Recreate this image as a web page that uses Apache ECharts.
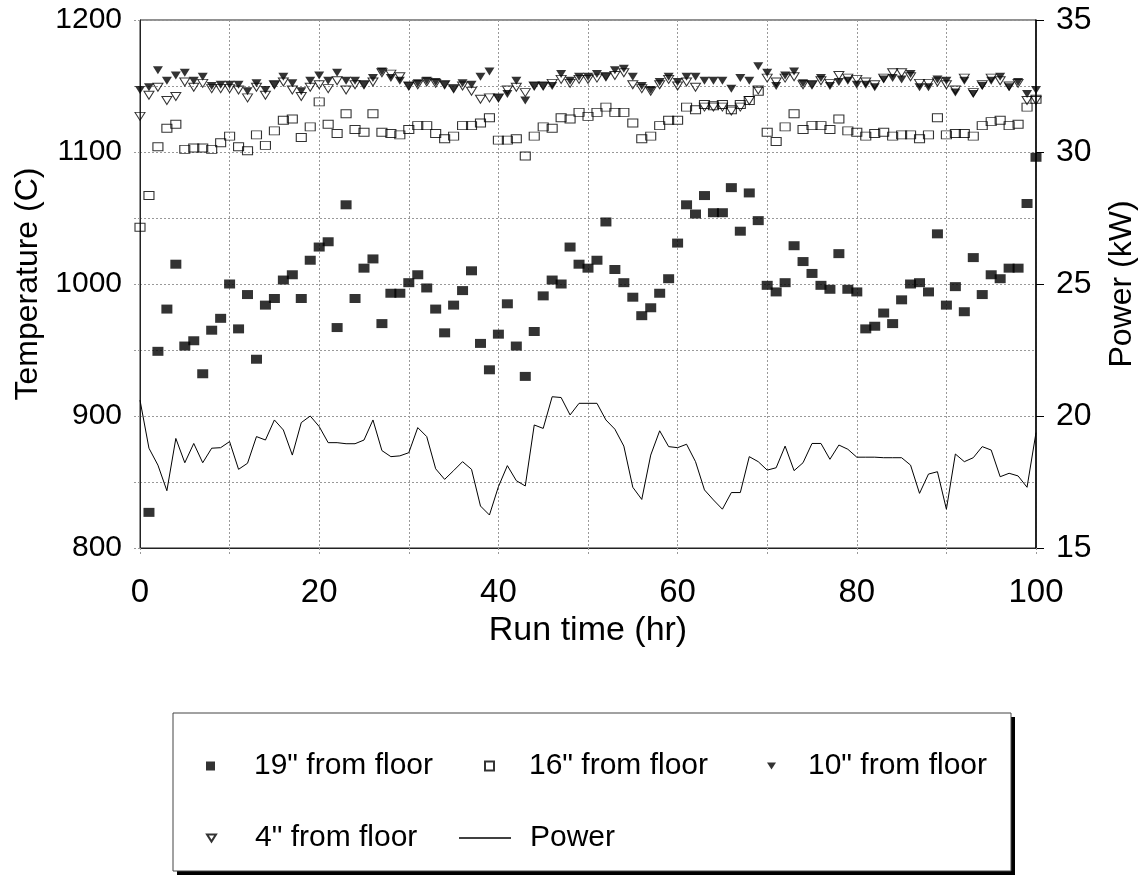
<!DOCTYPE html>
<html>
<head>
<meta charset="utf-8">
<script src="https://cdn.jsdelivr.net/npm/echarts@6/dist/echarts.min.js"></script>
<style>
  html, body { margin: 0; padding: 0; background: #fff; }
  #chart { width: 1144px; height: 884px; }
</style>
</head>
<body>
<div id="chart"></div>
<script>
// run time in hours, one reading per hour
const hours = Array.from({ length: 101 }, (_, i) => i)

// temperatures (C), index = hour
const temp19 = [null, 827, 949, 981, 1015, 953, 957, 932, 965, 974, 1000,
  966, 992, 943, 984, 989, 1003, 1007, 989, 1018, 1028,
  1032, 967, 1060, 989, 1012, 1019, 970, 993, 993, 1001,
  1007, 997, 981, 963, 984, 995, 1010, 955, 935, 962,
  985, 953, 930, 964, 991, 1003, 1000, 1028, 1015, 1012,
  1018, 1047, 1011, 1001, 990, 976, 982, 993, 1004, 1031,
  1060, 1053, 1067, 1054, 1054, 1073, 1040, 1069, 1048, 999,
  994, 1001, 1029, 1017, 1008, 999, 996, 1023, 996, 994,
  966, 968, 978, 970, 988, 1000, 1001, 994, 1038, 984,
  998, 979, 1020, 992, 1007, 1004, 1012, 1012, 1061, 1096]

const temp16 = [1043, 1067, 1104, 1118, 1121, 1102, 1103, 1103, 1102, 1107, 1112,
  1104, 1101, 1113, 1105, 1116, 1124, 1125, 1111, 1119, 1138,
  1121, 1114, 1129, 1117, 1115, 1129, 1115, 1114, 1113, 1117,
  1120, 1120, 1114, 1110, 1112, 1120, 1120, 1122, 1126, 1109,
  1109, 1110, 1097, 1112, 1119, 1118, 1126, 1125, 1130, 1127,
  1130, 1134, 1130, 1130, 1122, 1110, 1112, 1120, 1124, 1124,
  1134, 1132, 1136, 1135, 1136, 1132, 1136, 1139, 1146, 1115,
  1108, 1119, 1129, 1117, 1120, 1120, 1117, 1125, 1116, 1115,
  1112, 1114, 1115, 1112, 1113, 1113, 1110, 1113, 1126, 1113,
  1114, 1114, 1112, 1120, 1123, 1124, 1120, 1121, 1134, 1140]

const temp10 = [1147, 1149, 1162, 1154, 1158, 1160, 1154, 1157, 1150, 1151, 1151,
  1151, 1146, 1152, 1147, 1151, 1157, 1152, 1146, 1154, 1158,
  1154, 1160, 1154, 1154, 1151, 1156, 1161, 1156, 1154, 1150,
  1152, 1154, 1153, 1151, 1148, 1152, 1151, 1157, 1161, 1141,
  1144, 1154, 1139, 1150, 1150, 1150, 1159, 1154, 1157, 1157,
  1159, 1157, 1162, 1163, 1157, 1150, 1147, 1153, 1157, 1153,
  1157, 1157, 1154, 1154, 1154, 1148, 1156, 1154, 1165, 1160,
  1150, 1158, 1161, 1152, 1151, 1156, 1150, 1153, 1154, 1151,
  1151, 1149, 1155, 1156, 1155, 1159, 1149, 1149, 1155, 1154,
  1145, 1154, 1144, 1150, 1154, 1157, 1149, 1153, 1144, 1147]

const temp4 = [1127, 1143, 1149, 1139, 1142, 1153, 1149, 1152, 1148, 1148, 1148,
  1147, 1141, 1149, 1143, 1151, 1153, 1147, 1142, 1149, 1151,
  1148, 1154, 1147, 1151, 1151, 1153, 1160, 1159, 1157, 1150,
  1151, 1153, 1152, 1151, 1148, 1150, 1146, 1140, 1141, 1141,
  1147, 1149, 1145, 1150, 1150, 1152, 1155, 1152, 1155, 1155,
  1156, 1157, 1158, 1160, 1151, 1148, 1146, 1151, 1155, 1150,
  1153, 1149, 1134, 1134, 1134, 1131, 1134, 1139, 1147, 1156,
  1153, 1156, 1157, 1151, 1151, 1154, 1152, 1158, 1156, 1155,
  1153, 1151, 1156, 1160, 1160, 1157, 1152, 1152, 1153, 1151,
  1147, 1156, 1145, 1151, 1156, 1154, 1150, 1152, 1139, 1139]

// power (kW), index = hour
const power = [20.6, 18.78, 18.14, 17.17, 19.15, 18.23, 18.96, 18.23, 18.78, 18.8, 19.03,
  17.98, 18.21, 19.22, 19.09, 19.85, 19.47, 18.52, 19.75, 20.0, 19.6,
  18.99, 18.99, 18.95, 18.95, 19.09, 19.85, 18.69, 18.46, 18.49, 18.61,
  19.56, 19.22, 18.0, 17.6, 17.93, 18.27, 17.98, 16.59, 16.25, 17.32,
  18.12, 17.55, 17.35, 19.66, 19.53, 20.73, 20.7, 20.04, 20.48, 20.48,
  20.48, 19.85, 19.5, 18.86, 17.3, 16.84, 18.52, 19.44, 18.84, 18.8,
  18.93, 18.27, 17.2, 16.82, 16.47, 17.1, 17.1, 18.46, 18.27, 17.95,
  18.04, 18.86, 17.93, 18.23, 18.96, 18.96, 18.36, 18.9, 18.74, 18.44,
  18.44, 18.44, 18.42, 18.42, 18.42, 18.14, 17.07, 17.8, 17.89, 16.47,
  18.56, 18.27, 18.42, 18.84, 18.71, 17.7, 17.83, 17.73, 17.3, 19.37]

const xTickLabels = [0, 20, 40, 60, 80, 100]
const tempTickLabels = [800, 900, 1000, 1100, 1200]
const powerTickLabels = [15, 20, 25, 30, 35]

const FONT = "'Liberation Sans', Arial, sans-serif"
const DOWN_TRI = 'path://M0,0L10,0L5,8Z'

const pairs = (vals) => hours.map((h, i) => [h, vals[i]])

const chart = echarts.init(document.getElementById('chart'))

// one legend component per entry so every entry sits where the reference has it
const legendItem = (name, left, top, pad, opts) => Object.assign({
  data: [name],
  left: left,
  top: top,
  padding: 0,
  itemWidth: 9,
  itemHeight: 9,
  selectedMode: false,
  textStyle: { fontFamily: FONT, fontSize: 30, color: '#000', padding: [0, 0, 0, pad] }
}, opts || {})

const gridLine = { show: true, lineStyle: { color: '#999', type: [2, 2], width: 1 } }
const dottedTick = { show: true, length: 8, lineStyle: { color: '#999', type: [2, 2], width: 1 } }

chart.setOption({
  animation: false,
  backgroundColor: '#fff',
  grid: {
    left: 140, right: 108, top: 20, bottom: 336,
    outerBoundsMode: 'none',
    containLabel: false,
    show: true, borderColor: '#222', borderWidth: 1
  },
  legend: [
    legendItem('19" from floor', 206, 751, 34),
    legendItem('16" from floor', 484, 751, 30),
    legendItem({ name: '10" from floor', icon: DOWN_TRI }, 767, 751, 27),
    legendItem({ name: '4" from floor', icon: DOWN_TRI }, 206, 823, 34),
    legendItem({ name: 'Power', icon: 'rect' }, 459, 823, 14, { itemWidth: 52, itemHeight: 1.5 })
  ],
  graphic: [
    { type: 'rect', z: -1, shape: { x: 177, y: 717, width: 838, height: 158 }, style: { fill: '#000' }, silent: true },
    { type: 'rect', z: -1, shape: { x: 173, y: 713, width: 838, height: 158 }, style: { fill: '#fff', stroke: '#444', lineWidth: 1 }, silent: true }
  ],
  xAxis: {
    type: 'value',
    min: 0, max: 100, interval: 10,
    name: 'Run time (hr)',
    nameLocation: 'middle',
    nameGap: 66,
    nameTextStyle: { fontFamily: FONT, fontSize: 34, color: '#000' },
    axisLine: { show: true, lineStyle: { color: '#222' } },
    axisTick: dottedTick,
    axisLabel: {
      margin: 28,
      fontFamily: FONT, fontSize: 33, color: '#000',
      formatter: v => (xTickLabels.includes(v) ? String(v) : '')
    },
    splitLine: gridLine
  },
  yAxis: [
    {
      type: 'value',
      min: 800, max: 1200, interval: 50,
      name: 'Temperature (C)',
      nameLocation: 'middle',
      nameRotate: 90,
      nameGap: 92,
      nameTextStyle: { fontFamily: FONT, fontSize: 32, color: '#000' },
      axisLine: { show: true, lineStyle: { color: '#222' } },
      axisTick: dottedTick,
      axisLabel: {
        margin: 18,
        fontFamily: FONT, fontSize: 30, color: '#000',
        formatter: v => (tempTickLabels.includes(v) ? String(v) : '')
      },
      splitLine: gridLine
    },
    {
      type: 'value',
      min: 15, max: 35, interval: 2.5,
      position: 'right',
      name: 'Power (kW)',
      nameLocation: 'middle',
      nameRotate: 90,
      nameGap: 70,
      nameTextStyle: { fontFamily: FONT, fontSize: 32, color: '#000' },
      axisLine: { show: true, lineStyle: { color: '#000', width: 1.5 } },
      axisTick: { show: true, length: 8, customValues: powerTickLabels, lineStyle: { color: '#000' } },
      axisLabel: {
        margin: 20,
        fontFamily: FONT, fontSize: 32, color: '#000',
        formatter: v => (powerTickLabels.includes(v) ? String(v) : '')
      },
      splitLine: { show: false }
    }
  ],
  series: [
    {
      name: '19" from floor',
      type: 'scatter',
      symbol: 'rect',
      symbolSize: [11, 9],
      itemStyle: { color: '#000' },
      data: pairs(temp19)
    },
    {
      name: '16" from floor',
      type: 'scatter',
      symbol: 'rect',
      symbolSize: [10, 8],
      itemStyle: { color: 'rgba(255,255,255,0)', borderColor: '#000', borderWidth: 1 },
      data: pairs(temp16)
    },
    {
      name: '10" from floor',
      type: 'scatter',
      symbol: 'triangle',
      symbolRotate: 180,
      symbolSize: [10, 8],
      itemStyle: { color: '#000' },
      data: pairs(temp10)
    },
    {
      name: '4" from floor',
      type: 'scatter',
      symbol: 'triangle',
      symbolRotate: 180,
      symbolSize: [10, 8],
      itemStyle: { color: 'rgba(255,255,255,0)', borderColor: '#000', borderWidth: 1 },
      data: pairs(temp4)
    },
    {
      name: 'Power',
      type: 'line',
      yAxisIndex: 1,
      showSymbol: false,
      symbol: 'none',
      lineStyle: { color: '#000', width: 1 },
      itemStyle: { color: '#000' },
      data: pairs(power)
    }
  ]
})
</script>
</body>
</html>
